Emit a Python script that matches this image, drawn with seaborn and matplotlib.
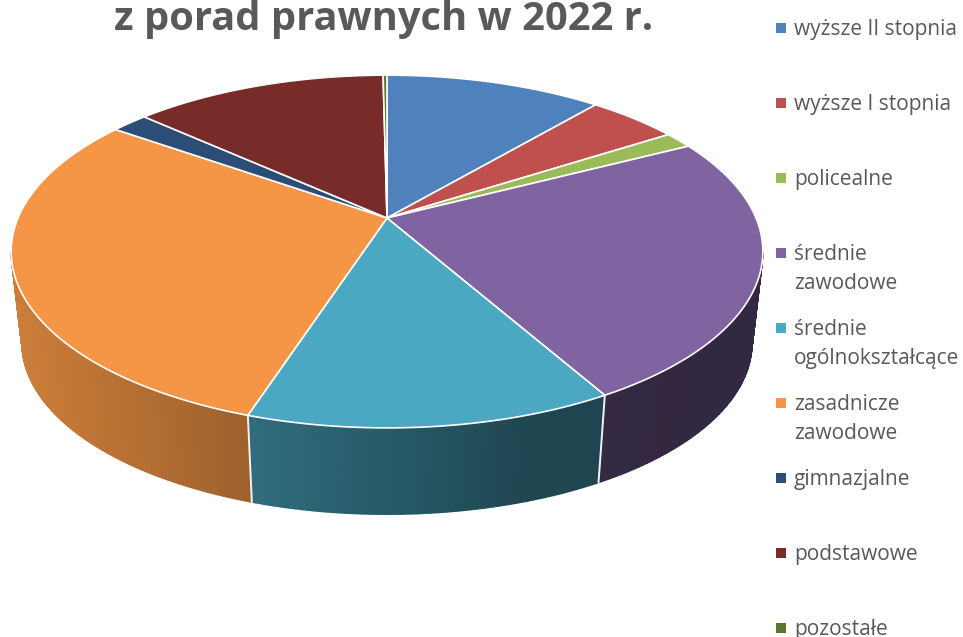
import numpy as np
import matplotlib
matplotlib.use('Agg')
import matplotlib.pyplot as plt
import seaborn as sns

# education level shares (%)
categories = ['wyższe II stopnia', 'wyższe I stopnia', 'policealne', 'średnie\nzawodowe',
              'średnie\nogólnokształcące', 'zasadnicze\nzawodowe', 'gimnazjalne',
              'podstawowe', 'pozostałe']
shares = [11.2, 4.7, 1.5, 24.4, 13.2, 29.8, 1.9, 13.1, 0.2]
top_colors = ['#4F81BD', '#C0504D', '#9BBB59', '#8064A2', '#4AA8C2',
              '#F49645', '#2C4D75', '#772C2A', '#5F7530']
title_text = 'z porad prawnych w 2022 r.'

sns.set_theme(style='white')
plt.rcParams['font.family'] = ['Open Sans', 'DejaVu Sans']
text_color = '#595959'

fig, ax = plt.subplots(figsize=(9.63, 6.37), dpi=100)
ax.set_position([0, 0, 1, 1])
ax.set_xlim(0, 963)
ax.set_ylim(637, 0)
ax.axis('off')

# perspective disc: pie centre and rim are a projected unit circle
cx, cy = 387, 218
a, b, k = 369, 170, 0.19
mid_y = 251.5        # y of the widest part of the rim
shrink = 0.971       # lower rim is a bit smaller
low_y = 343


def rim(theta):
    u, v = np.sin(theta), np.cos(theta)
    w = 1 + k * v
    return cx + a * u / w, cy - b * v / w


def low_rim(x, y):
    return cx + (x - cx) * shrink, low_y + (y - mid_y) * shrink


def shade(x):
    return np.interp(x, [20, 530, 700], [0.83, 0.42, 0.40])


edges = np.radians(np.concatenate([[0], np.cumsum(shares)]) * 360 / np.sum(shares))
palette = sns.color_palette(top_colors)

# side wall, thin strips so the shade runs across it
for i, col in enumerate(palette):
    th = np.linspace(edges[i], edges[i + 1], max(int(np.degrees(edges[i + 1] - edges[i]) * 2), 2))
    x, y = rim(th)
    xl, yl = low_rim(x, y)
    for j in range(len(th) - 1):
        if y[j] < mid_y or y[j + 1] < mid_y:
            continue
        f = shade((x[j] + x[j + 1]) / 2)
        c = tuple(np.array(col) * f)
        ax.fill([x[j], x[j + 1], xl[j + 1], xl[j]], [y[j], y[j + 1], yl[j + 1], yl[j]],
                color=c, lw=1.0, zorder=2)

# white seams on the wall
for e in edges:
    x, y = rim(e)
    if y > mid_y:
        xl, yl = low_rim(x, y)
        ax.plot([x, xl], [y, yl], color='#F2F2F2', lw=1.4, zorder=3)

# top face
for i, col in enumerate(palette):
    th = np.linspace(edges[i], edges[i + 1], 200)
    x, y = rim(th)
    ax.fill(np.r_[cx, x], np.r_[cy, y], facecolor=col, edgecolor='white', lw=1.2,
            joinstyle='round', zorder=4)

ax.text(384, 30, title_text, ha='center', va='baseline', fontsize=28.7, fontweight='bold',
        color=text_color)

# legend, rows are evenly spaced whether the label wraps or not
rows = 28 + 75 * np.arange(len(categories))
sns.scatterplot(x=[781] * len(categories), y=rows, hue=categories, palette=top_colors,
                marker='s', s=52, linewidth=0, legend=False, ax=ax, zorder=5)
for label, row in zip(categories, rows):
    for n, line in enumerate(label.split('\n')):
        ax.text(794, row + 7 + n * 29, line, ha='left', va='baseline', fontsize=15,
                color=text_color)

ax.set_xlim(0, 963)
ax.set_ylim(637, 0)
fig.savefig('out.png', dpi=100)
